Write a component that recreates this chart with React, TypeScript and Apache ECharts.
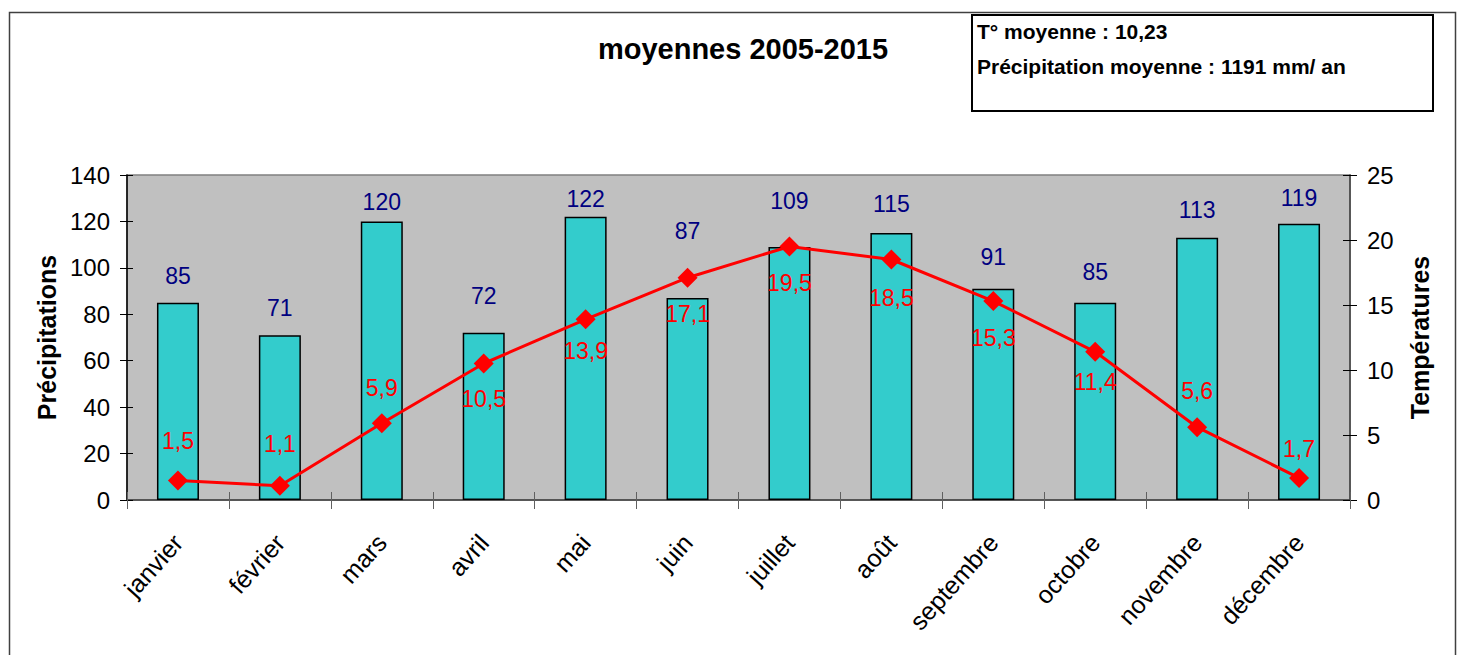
import React, { useEffect, useRef } from "react";
import * as echarts from "echarts";

const months = ["janvier", "février", "mars", "avril", "mai", "juin", "juillet", "août", "septembre", "octobre", "novembre", "décembre"];
const precipitations = [85, 71, 120, 72, 122, 87, 109, 115, 91, 85, 113, 119];
const temperatures = [1.5, 1.1, 5.9, 10.5, 13.9, 17.1, 19.5, 18.5, 15.3, 11.4, 5.6, 1.7];
const precipTicks = [0, 140, 20];
const tempTicks = [0, 25, 5];
const titleText = "moyennes 2005-2015";
const infoLines = ["T° moyenne : 10,23", "Précipitation moyenne : 1191 mm/ an"];

// label placement styles (not data)
const barLabelGap = [15, 16, 8, 25, 6, 56, 34, 18, 20, 19, 16, 14];
const tempLabelSide = ["top", "top", "top", "bottom", "bottom", "bottom", "bottom", "bottom", "bottom", "bottom", "top", "top"];
const tempLabelGap = [18, 20, 14, 14, 10, 15, 15, 17, 15, 9, 15, 7];

const FONT = "'Liberation Sans', Arial, sans-serif";

export default function App() {
  const ref = useRef<HTMLDivElement>(null);
  useEffect(() => {
    if (!ref.current) return;
    const chart = echarts.init(ref.current, undefined, { renderer: "svg" });
    const tickStyle = { color: "#000", width: 1 };
    const option: any = {
      animation: false,
      backgroundColor: "#fff",
      textStyle: { fontFamily: FONT },
      title: {
        text: titleText,
        left: 738,
        top: 29,
        textAlign: "center",
        textStyle: { fontFamily: FONT, fontSize: 29, fontWeight: "bold", color: "#000" },
      },
      grid: {
        left: 127, right: 111, top: 175, bottom: 155,
        show: true, backgroundColor: "#C0C0C0", borderColor: "#808080", borderWidth: 1.5,
      },
      xAxis: [
        {
          type: "category", data: months, position: "bottom",
          axisLine: { lineStyle: { color: "#404040", width: 1.5 } },
          axisTick: { show: true, inside: false, length: 9, lineStyle: { color: "#606060" } },
          axisLabel: { rotate: 48, margin: 38, fontSize: 25, color: "#000", fontFamily: FONT },
        },
        {
          type: "category", data: months, position: "bottom",
          axisLine: { show: false },
          axisTick: { show: true, inside: true, length: 8, lineStyle: { color: "#606060" } },
          axisLabel: { show: false },
        },
      ],
      yAxis: [
        {
          type: "value", min: precipTicks[0], max: precipTicks[1], interval: precipTicks[2], position: "left",
          name: "Précipitations", nameLocation: "middle", nameGap: 66, nameRotate: 90,
          nameTextStyle: { fontFamily: FONT, fontSize: 25, fontWeight: "bold", color: "#000" },
          axisLine: { show: true, lineStyle: { color: "#000", width: 1.5 } },
          axisTick: { show: true, inside: false, length: 7, lineStyle: tickStyle },
          axisLabel: { margin: 17, fontSize: 24, color: "#000", fontFamily: FONT },
          splitLine: { show: false },
        },
        {
          type: "value", min: tempTicks[0], max: tempTicks[1], interval: tempTicks[2], position: "right",
          name: "Températures", nameLocation: "middle", nameGap: 57, nameRotate: 90,
          nameTextStyle: { fontFamily: FONT, fontSize: 25, fontWeight: "bold", color: "#000" },
          axisLine: { show: true, lineStyle: { color: "#404040", width: 1.5 } },
          axisTick: { show: true, inside: false, length: 7, lineStyle: tickStyle },
          axisLabel: { margin: 17, fontSize: 24, color: "#000", fontFamily: FONT },
          splitLine: { show: false },
        },
        {
          type: "value", min: precipTicks[0], max: precipTicks[1], interval: precipTicks[2], position: "left",
          axisLine: { show: false }, axisTick: { show: true, inside: true, length: 6, lineStyle: tickStyle },
          axisLabel: { show: false }, splitLine: { show: false },
        },
        {
          type: "value", min: tempTicks[0], max: tempTicks[1], interval: tempTicks[2], position: "right",
          axisLine: { show: false }, axisTick: { show: true, inside: true, length: 7, lineStyle: tickStyle },
          axisLabel: { show: false }, splitLine: { show: false },
        },
      ],
      series: [
        {
          type: "bar", xAxisIndex: 0, yAxisIndex: 0, barWidth: 42,
          itemStyle: { color: "#33CCCC", borderColor: "#000", borderWidth: 1.5 },
          label: { show: true, position: "top", fontSize: 23, color: "#000080", fontFamily: FONT },
          data: precipitations.map((v, i) => ({ value: v, label: { distance: barLabelGap[i] } })),
        },
        {
          type: "line", xAxisIndex: 0, yAxisIndex: 1, symbol: "diamond", symbolSize: 20,
          lineStyle: { color: "#FF0000", width: 3 },
          itemStyle: { color: "#FF0000" },
          label: {
            show: true, fontSize: 23, color: "#FF0000", fontFamily: FONT,
            formatter: (p: any) => String(p.value).replace(".", ","),
          },
          data: temperatures.map((v, i) => ({ value: v, label: { position: tempLabelSide[i], distance: tempLabelGap[i] } })),
          z: 5,
        },
      ],
      graphic: [
        {
          type: "rect", left: 7, top: 10, z: -1, silent: true,
          shape: { x: 0, y: 0, width: 1446, height: 700 },
          style: { fill: "none", stroke: "#404040", lineWidth: 1.5 },
        },
        {
          type: "rect", z: 10, silent: true,
          shape: { x: 972, y: 15, width: 461, height: 96 },
          style: { fill: "#fff", stroke: "#000", lineWidth: 2 },
        },
        {
          type: "text", z: 11, x: 977, y: 31,
          style: { text: infoLines[0], fontFamily: FONT, fontSize: 21, fontWeight: "bold", fill: "#000", verticalAlign: "middle" },
        },
        {
          type: "text", z: 11, x: 977, y: 66,
          style: { text: infoLines[1], fontFamily: FONT, fontSize: 21, fontWeight: "bold", fill: "#000", verticalAlign: "middle" },
        },
      ],
    };
    chart.setOption(option);
    return () => chart.dispose();
  }, []);
  return <div ref={ref} style={{ position: "fixed", left: 0, top: 0, width: 1461, height: 655 }} />;
}
